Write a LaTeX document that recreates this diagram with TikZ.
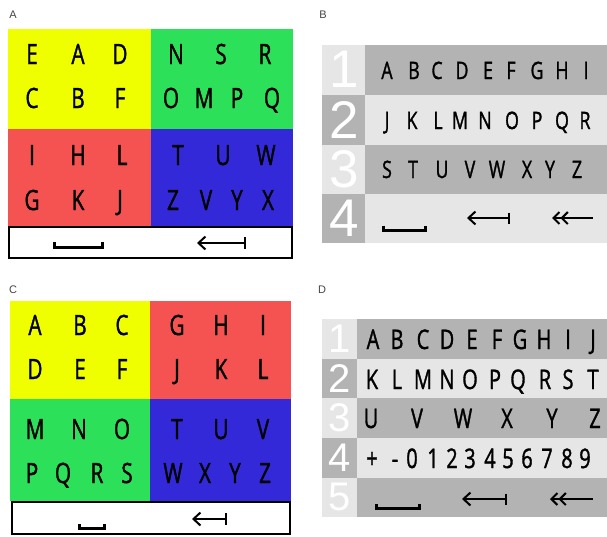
\documentclass[tikz,border=0pt]{standalone}
\usepackage{fontspec}
\usetikzlibrary{arrows.meta}
\newfontfamily\kfont[FakeStretch=0.74,FakeBold=1.2]{Open Sans}
\newfontfamily\nfont{Liberation Sans}
\definecolor{kyellow}{HTML}{F0FF00}
\definecolor{kgreen}{HTML}{2DE05A}
\definecolor{kred}{HTML}{F55252}
\definecolor{kblue}{HTML}{3429D9}
\definecolor{kdark}{HTML}{B3B3B3}
\definecolor{klight}{HTML}{E6E6E6}
\definecolor{klabel}{HTML}{444444}
\tikzset{
  letA/.style={font={\kfont\fontsize{28pt}{30pt}\selectfont}, inner sep=0pt, anchor=base},
  letB/.style={font={\kfont\fontsize{24pt}{26pt}\selectfont}, inner sep=0pt, anchor=base},
  letD/.style={font={\kfont\fontsize{27pt}{29pt}\selectfont}, inner sep=0pt, anchor=base},
  numB/.style={font={\nfont\fontsize{53pt}{53pt}\selectfont}, text=white, inner sep=0pt, anchor=center},
  numD/.style={font={\nfont\fontsize{40pt}{40pt}\selectfont}, text=white, inner sep=0pt, anchor=center},
  plabel/.style={font={\nfont\fontsize{11pt}{12pt}\selectfont}, text=klabel, inner sep=0pt, anchor=center},
  spacebar/.style={line width=3pt, line cap=butt, line join=miter},
  bsline/.style={line width=2pt, {Straight Barb[length=7pt,width=13pt,line width=2pt]}-},
  dblline/.style={line width=2pt, {Straight Barb[length=6pt,width=12pt,line width=2pt]Straight Barb[length=6pt,width=12pt,line width=2pt]}-},
  barend/.style={line width=2.6pt},
  keybox/.style={draw=black, line width=2pt, fill=white}
}
\begin{document}
\begin{tikzpicture}[x=1pt,y=-1pt]
\useasboundingbox (0,0) rectangle (607,536);
% ---------------- Panel A ----------------
\node[plabel] (labA) at (13,15) {A};
\fill[kyellow] (8,29) rectangle (151,129);
\fill[kgreen] (151,29) rectangle (293,129);
\fill[kred] (8,129) rectangle (151,226);
\fill[kblue] (151,129) rectangle (293,226);
\draw[keybox] (9,227) rectangle (292,258);
\foreach \x/\t [count=\i] in {32/E,78/A,120/D} \node[letA] (a1y\i) at (\x,64) {\t};
\foreach \x/\t [count=\i] in {32/C,78/B,120/F} \node[letA] (a2y\i) at (\x,108) {\t};
\foreach \x/\t [count=\i] in {176/N,221/S,265/R} \node[letA] (a1g\i) at (\x,64) {\t};
\foreach \x/\t [count=\i] in {171/O,204/M,237/P,272/Q} \node[letA] (a2g\i) at (\x,108) {\t};
\foreach \x/\t [count=\i] in {32/I,78/H,122/L} \node[letA] (a3r\i) at (\x,165) {\t};
\foreach \x/\t [count=\i] in {32/G,78/K,120/J} \node[letA] (a4r\i) at (\x,210) {\t};
\foreach \x/\t [count=\i] in {178/T,223/U,266/W} \node[letA] (a3b\i) at (\x,165) {\t};
\foreach \x/\t [count=\i] in {173/Z,206/V,237/Y,268/X} \node[letA] (a4b\i) at (\x,210) {\t};
\draw[spacebar] (54,242) -- (54,247.5) -- (102,247.5) -- (102,242);
\draw[bsline] (197,243) -- (245,243);
\draw[barend] (245,237) -- (245,249);
% ---------------- Panel B ----------------
\node[plabel] (labB) at (323,15) {B};
\fill[klight] (322,45) rectangle (365,95);
\fill[kdark] (365,45) rectangle (607,95);
\fill[kdark] (322,95) rectangle (365,145);
\fill[klight] (365,95) rectangle (607,145);
\fill[klight] (322,145) rectangle (365,194);
\fill[kdark] (365,145) rectangle (607,194);
\fill[kdark] (322,194) rectangle (365,243);
\fill[klight] (365,194) rectangle (607,243);
\node[numB] (nb1) at (344,69) {1};
\node[numB] (nb2) at (344,120) {2};
\node[numB] (nb3) at (344,169) {3};
\node[numB] (nb4) at (344,218) {4};
\foreach \x/\t [count=\i] in {387/A,414/B,437/C,462/D,488/E,511/F,537/G,562/H,586/I} \node[letB] (b1\i) at (\x,79) {\t};
\foreach \x/\t [count=\i] in {387/J,412/K,438/L,460/M,485/N,512/O,537/P,562/Q,585/R} \node[letB] (b2\i) at (\x,129) {\t};
\foreach \x/\t [count=\i] in {387/S,413/T,442/U,470/V,497/W,527/X,550/Y,577/Z} \node[letB] (b3\i) at (\x,178) {\t};
\draw[spacebar] (383,225.5) -- (383,230) -- (425,230) -- (425,225.5);
\draw[bsline] (467,218) -- (509,218);
\draw[barend] (509,212.5) -- (509,223.5);
\draw[dblline] (552,218) -- (593,218);
% ---------------- Panel C ----------------
\node[plabel] (labC) at (13,290) {C};
\fill[kyellow] (10,301) rectangle (150,399);
\fill[kred] (150,301) rectangle (291,399);
\fill[kgreen] (10,399) rectangle (150,501);
\fill[kblue] (150,399) rectangle (291,501);
\draw[keybox] (12,502) rectangle (290,534);
\foreach \x/\t [count=\i] in {35/A,80/B,122/C} \node[letA] (c1y\i) at (\x,335) {\t};
\foreach \x/\t [count=\i] in {35/D,80/E,122/F} \node[letA] (c2y\i) at (\x,379) {\t};
\foreach \x/\t [count=\i] in {177/G,221/H,263/I} \node[letA] (c1r\i) at (\x,335) {\t};
\foreach \x/\t [count=\i] in {177/J,221/K,263/L} \node[letA] (c2r\i) at (\x,379) {\t};
\foreach \x/\t [count=\i] in {35/M,79/N,122/O} \node[letA] (c3g\i) at (\x,439) {\t};
\foreach \x/\t [count=\i] in {32/P,63/Q,97/R,127/S} \node[letA] (c4g\i) at (\x,483) {\t};
\foreach \x/\t [count=\i] in {177/T,221/U,263/V} \node[letA] (c3b\i) at (\x,439) {\t};
\foreach \x/\t [count=\i] in {173/W,205/X,235/Y,265/Z} \node[letA] (c4b\i) at (\x,483) {\t};
\draw[spacebar] (79,524) -- (79,528) -- (104,528) -- (104,524);
\draw[bsline] (192,519) -- (226,519);
\draw[barend] (226,513) -- (226,525);
% ---------------- Panel D ----------------
\node[plabel] (labD) at (322,290) {D};
\fill[klight] (322,319) rectangle (357,359);
\fill[kdark] (357,319) rectangle (607,359);
\fill[kdark] (322,359) rectangle (357,398);
\fill[klight] (357,359) rectangle (607,398);
\fill[klight] (322,398) rectangle (357,438);
\fill[kdark] (357,398) rectangle (607,438);
\fill[kdark] (322,438) rectangle (357,478);
\fill[klight] (357,438) rectangle (607,478);
\fill[klight] (322,478) rectangle (357,517);
\fill[kdark] (357,478) rectangle (607,517);
\node[numD] (nd1) at (340,339) {1};
\node[numD] (nd2) at (340,379) {2};
\node[numD] (nd3) at (340,418) {3};
\node[numD] (nd4) at (340,458) {4};
\node[numD] (nd5) at (340,497) {5};
\foreach \x/\t [count=\i] in {373/A,397/B,423/C,447/D,472/E,497/F,520/G,544/H,568/I,593/J} \node[letD] (d1\i) at (\x,349) {\t};
\foreach \x/\t [count=\i] in {372/K,397/L,423/M,447/N,470/O,495/P,518/Q,545/R,568/S,593/T} \node[letD] (d2\i) at (\x,389) {\t};
\foreach \x/\t [count=\i] in {371/U,417/V,463/W,507/X,552/Y,595/Z} \node[letD] (d3\i) at (\x,428) {\t};
\foreach \x/\t [count=\i] in {372/+,395/-,412/0,433/1,452/2,470/3,490/4,508/5,527/6,547/7,567/8,585/9} \node[letD] (d4\i) at (\x,468) {\t};
\draw[spacebar] (376,504) -- (376,508.5) -- (419,508.5) -- (419,504);
\draw[bsline] (462,499) -- (506,499);
\draw[barend] (506,493.5) -- (506,504.5);
\draw[dblline] (550,499) -- (593,499);
\end{tikzpicture}
\end{document}
